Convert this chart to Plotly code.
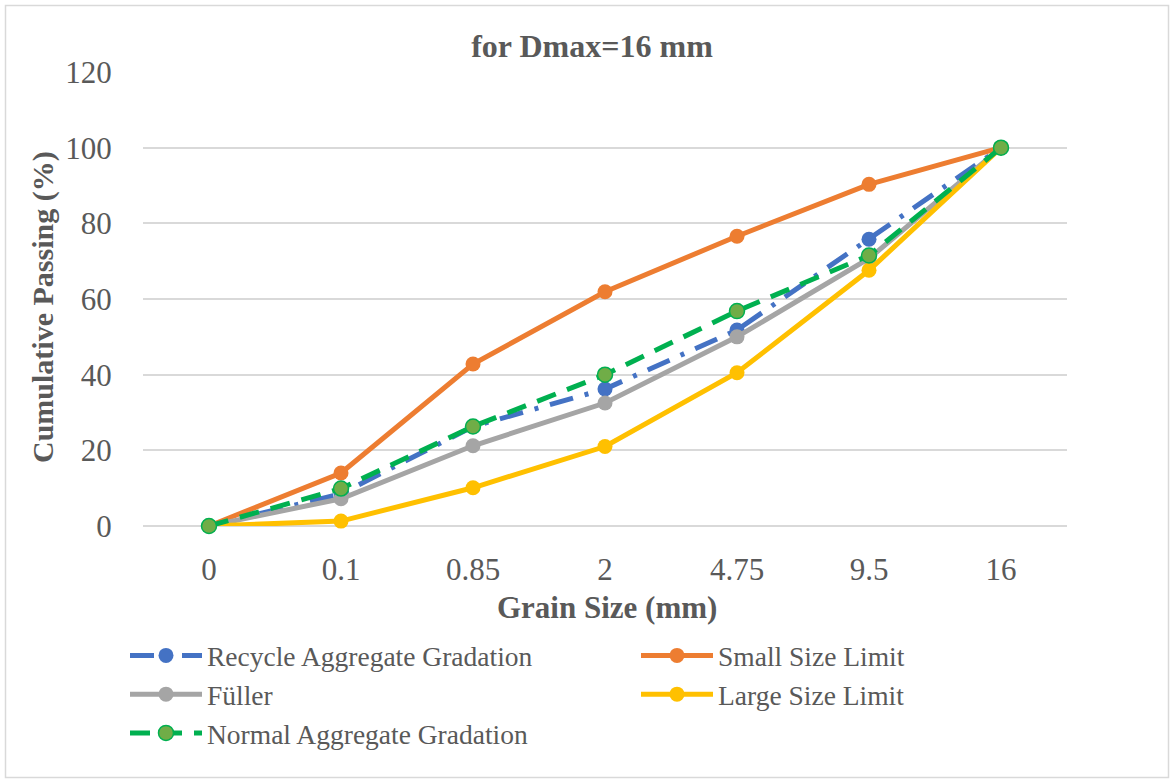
import plotly.graph_objects as go

sizes = ["0", "0.1", "0.85", "2", "4.75", "9.5", "16"]
recycle = [0, 8.5, 26.3, 36.2, 51.8, 75.8, 100]
small_limit = [0, 14.0, 42.8, 61.9, 76.6, 90.3, 100]
fuller = [0, 7.2, 21.2, 32.5, 50.0, 70.7, 100]
large_limit = [0, 1.3, 10.1, 21.0, 40.5, 67.6, 100]
normal = [0, 9.9, 26.3, 40.0, 56.8, 71.5, 100]

FONT = "Liberation Serif, Times New Roman, serif"
TXT = "#595959"
LW = 5
MS = 15

fig = go.Figure()
fig.add_trace(go.Scatter(x=sizes, y=recycle, name="Recycle Aggregate Gradation", mode="lines+markers",
                         line=dict(color="#4472C4", width=LW, dash="24px,12px,4px,12px"),
                         marker=dict(size=MS, color="#4472C4"), cliponaxis=False))
fig.add_trace(go.Scatter(x=sizes, y=small_limit, name="Small Size Limit", mode="lines+markers",
                         line=dict(color="#ED7D31", width=LW),
                         marker=dict(size=MS, color="#ED7D31"), cliponaxis=False))
fig.add_trace(go.Scatter(x=sizes, y=fuller, name="Füller", mode="lines+markers",
                         line=dict(color="#A5A5A5", width=LW),
                         marker=dict(size=MS, color="#A5A5A5"), cliponaxis=False))
fig.add_trace(go.Scatter(x=sizes, y=large_limit, name="Large Size Limit", mode="lines+markers",
                         line=dict(color="#FFC000", width=LW),
                         marker=dict(size=MS, color="#FFC000"), cliponaxis=False))
fig.add_trace(go.Scatter(x=sizes, y=normal, name="Normal Aggregate Gradation", mode="lines+markers",
                         line=dict(color="#00B050", width=LW, dash="20px,12px"),
                         marker=dict(size=MS, color="#70AD47", line=dict(color="#00B050", width=1.5)),
                         cliponaxis=False))

L, T, R, B = 143, 72, 1067, 526
W, H = R - L, B - T

def px_x(p):
    return (p - L) / W

def px_y(p):
    return (B - p) / H

fig.update_layout(
    width=1174, height=783,
    margin=dict(l=L, r=1174 - R, t=T, b=783 - B),
    paper_bgcolor="white", plot_bgcolor="white",
    font=dict(family=FONT, color=TXT, size=30),
    showlegend=True,
    legend=dict(orientation="h", xref="paper", yref="paper",
                x=px_x(125), y=px_y(631), xanchor="left", yanchor="top",
                font=dict(family=FONT, size=27.5, color=TXT),
                entrywidth=424, tracegroupgap=0, itemwidth=72,
                bgcolor="rgba(0,0,0,0)"),
    title=dict(text="<b>for Dmax=16 mm</b>", x=592 / 1174, xref="container", xanchor="center",
               y=1 - 46 / 783, yref="container", yanchor="middle",
               font=dict(family=FONT, size=32, color=TXT)),
    xaxis=dict(type="category", range=[-0.5, 6.5], showgrid=False, showline=False, zeroline=False,
               ticks="outside", ticklen=16, tickcolor="rgba(0,0,0,0)",
               tickfont=dict(family=FONT, size=31, color=TXT)),
    yaxis=dict(range=[0, 120], dtick=20, showgrid=True, gridcolor="#D9D9D9", gridwidth=1.5,
               zeroline=True, zerolinecolor="#D9D9D9", zerolinewidth=1.5, showline=False,
               ticks="outside", ticklen=24, tickcolor="rgba(0,0,0,0)",
               tickfont=dict(family=FONT, size=31, color=TXT)),
    annotations=[
        dict(text="<b>Grain Size (mm)</b>", xref="paper", yref="paper", x=px_x(607), y=px_y(607),
             xanchor="center", yanchor="middle", showarrow=False,
             font=dict(family=FONT, size=31, color=TXT)),
        dict(text="<b>Cumulative Passing (%)</b>", xref="paper", yref="paper", x=px_x(43), y=px_y(307),
             xanchor="center", yanchor="middle", showarrow=False, textangle=-90,
             font=dict(family=FONT, size=30, color=TXT)),
    ],
    shapes=[dict(type="rect", xref="paper", yref="paper",
                 x0=px_x(5.5), x1=px_x(1168.5), y0=px_y(777.5), y1=px_y(5.5),
                 line=dict(color="#D9D9D9", width=1.5), fillcolor="rgba(0,0,0,0)", layer="below")],
)

fig.write_html("out.html")
